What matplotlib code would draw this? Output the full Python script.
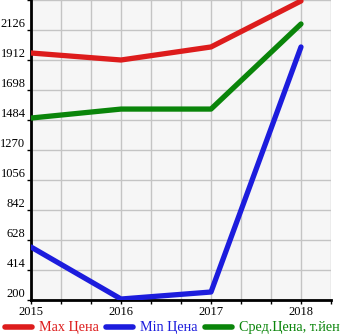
import matplotlib
matplotlib.use("Agg")
import matplotlib.pyplot as plt
from matplotlib.ticker import FixedLocator

years = [2015, 2016, 2017, 2018]
max_price = [1962, 1912, 2005, 2333]
min_price = [578, 207, 257, 2005]
avg_price = [1498, 1562, 1562, 2169]
y_ticks = [200, 414, 628, 842, 1056, 1270, 1484, 1698, 1912, 2126]
labels = ["Max Цена", "Min Цена", "Сред.Цена, т.йен"]

RED, BLUE, GREEN = "#dd1c1c", "#1c1cdd", "#0a850a"
FONT = "Liberation Serif"

fig = plt.figure(figsize=(3.45, 3.35), dpi=100, facecolor="white")
ax = fig.add_axes([31 / 345, 35 / 335, 300 / 345, 300 / 335])
ax.set_facecolor("#f6f6f6")

for vals, col in [(max_price, RED), (avg_price, GREEN), (min_price, BLUE)]:
    ax.plot(years, vals, color=col, lw=3.8, solid_capstyle="round", zorder=3)

ax.set_xlim(2015, 2015 + 300 / 90)
ax.set_ylim(200, 200 + 10 * 214)
ax.xaxis.set_major_locator(FixedLocator(years))
ax.xaxis.set_minor_locator(FixedLocator([2015 + i / 3 for i in range(11)]))
ax.yaxis.set_major_locator(FixedLocator(y_ticks + [2340]))
ax.set_yticklabels([str(v) for v in y_ticks] + [""])
ax.grid(True, which="both", color="#c4c4c4", lw=1)
ax.set_axisbelow(True)
for s in ("top", "right"):
    ax.spines[s].set_visible(False)
for s in ("left", "bottom"):
    ax.spines[s].set_linewidth(2)
    ax.spines[s].set_color("black")
ax.tick_params(which="both", length=3, width=1, colors="black", labelsize=9, pad=1)
for t in ax.get_xticklabels() + ax.get_yticklabels():
    t.set_fontfamily(FONT)
for t in ax.get_yticklabels():
    t.set_verticalalignment("bottom")

handles = [plt.Line2D([], [], color=c, lw=4, solid_capstyle="round") for c in (RED, BLUE, GREEN)]
leg = fig.legend(handles, labels, loc="lower center", bbox_to_anchor=(0.5, -0.028), ncol=3,
                 frameon=False, handlelength=1.9, handletextpad=0.5, columnspacing=0.5,
                 borderpad=0.2, prop={"family": FONT, "size": 10.2})
for txt, c in zip(leg.get_texts(), (RED, BLUE, GREEN)):
    txt.set_color(c)

fig.savefig("out.png", dpi=100, facecolor="white")
